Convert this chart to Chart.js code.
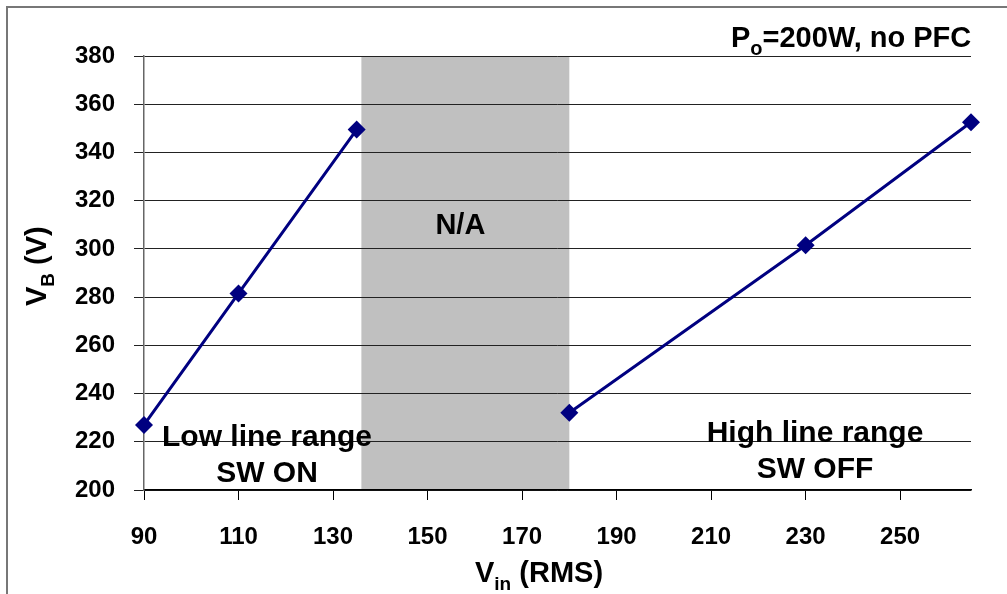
<!DOCTYPE html>
<html>
<head>
<meta charset="utf-8">
<script src="https://cdn.jsdelivr.net/npm/chart.js@4"></script>
<style>
  html, body { margin: 0; padding: 0; background: #fff; overflow: hidden; }
  #wrap { position: relative; width: 1007px; height: 594px; }
  #frame { position: absolute; left: 6px; top: 6px; width: 1020px; height: 600px; border: 2px solid #777; box-sizing: border-box; }
  canvas { position: absolute; left: 0; top: 0; }
</style>
</head>
<body>
<div id="wrap">
  <div id="frame"></div>
  <canvas id="vb-chart" width="1007" height="594"></canvas>
</div>
<script>
const FONT = '"Liberation Sans", Arial, sans-serif';
const NAVY = '#000080';

// bus voltage vs. input voltage, low line (switch on) and high line (switch off)
const lowVin = [90, 110, 135];
const lowVb = [227, 281.5, 349.5];
const highVin = [180, 230, 265];
const highVb = [232, 301.5, 352.5];

// input range not covered by either setting
const naRange = [136, 180];

const xTicks = [90, 110, 130, 150, 170, 190, 210, 230, 250];
const xMin = 90, xMax = 265;
const yMin = 200, yMax = 380, yStep = 20;

function toPoints(xs, ys) {
    return xs.map((x, i) => ({ x: x, y: ys[i] }));
}

function lineStyle(label, xs, ys) {
    return {
        label: label,
        data: toPoints(xs, ys),
        showLine: true,
        borderColor: NAVY,
        backgroundColor: NAVY,
        borderWidth: 3,
        pointStyle: 'rectRot',
        pointRadius: 9,
        pointBorderWidth: 0,
        pointBorderColor: NAVY,
        pointBackgroundColor: NAVY,
        clip: false,
    };
}

// text with a subscript part: [main, sub, rest]
function drawSubText(ctx, x, y, parts, size, subSize) {
    ctx.textAlign = 'left';
    ctx.textBaseline = 'alphabetic';
    ctx.font = 'bold ' + size + 'px ' + FONT;
    ctx.fillText(parts[0], x, y);
    x += ctx.measureText(parts[0]).width;
    ctx.font = 'bold ' + subSize + 'px ' + FONT;
    ctx.fillText(parts[1], x, y + subSize * 0.4);
    x += ctx.measureText(parts[1]).width;
    ctx.font = 'bold ' + size + 'px ' + FONT;
    ctx.fillText(parts[2], x, y);
}

const naBand = {
    id: 'naBand',
    beforeDraw(chart) {
        const { ctx, chartArea, scales } = chart;
        const x0 = scales.x.getPixelForValue(naRange[0]);
        const x1 = scales.x.getPixelForValue(naRange[1]);
        ctx.save();
        ctx.fillStyle = '#c0c0c0';
        ctx.fillRect(x0, chartArea.top, x1 - x0, chartArea.bottom - chartArea.top);
        ctx.restore();
    }
};

const labels = {
    id: 'labels',
    afterDraw(chart) {
        const { ctx, scales } = chart;
        ctx.save();
        ctx.fillStyle = '#000';

        ctx.font = 'bold 29px ' + FONT;
        ctx.textAlign = 'center';
        ctx.textBaseline = 'alphabetic';
        const naX = (scales.x.getPixelForValue(naRange[0]) + scales.x.getPixelForValue(naRange[1])) / 2;
        ctx.fillText('N/A', naX - 5, 234);

        ctx.font = 'bold 30px ' + FONT;
        ctx.fillText('Low line range', 267, 446);
        ctx.fillText('SW ON', 267, 482);
        ctx.fillText('High line range', 815, 442);
        ctx.fillText('SW OFF', 815, 478);

        drawSubText(ctx, 731, 47, ['P', 'o', '=200W, no PFC'], 29, 20);
        drawSubText(ctx, 475, 582, ['V', 'in', ' (RMS)'], 29, 19);

        ctx.translate(46, 306);
        ctx.rotate(-Math.PI / 2);
        drawSubText(ctx, 0, 0, ['V', 'B', ' (V)'], 29, 19);
        ctx.restore();
    }
};

const vbChart = new Chart(document.getElementById('vb-chart'), {
    type: 'scatter',
    data: {
        datasets: [
            lineStyle('Low line range', lowVin, lowVb),
            lineStyle('High line range', highVin, highVb),
        ]
    },
    options: {
        responsive: false,
        animation: false,
        devicePixelRatio: 1,
        layout: { padding: { top: 56, right: 36, left: 0, bottom: 0 } },
        plugins: {
            legend: { display: false },
            tooltip: { enabled: false },
        },
        scales: {
            x: {
                type: 'linear',
                min: xMin,
                max: xMax,
                afterBuildTicks(scale) { scale.ticks = xTicks.map(v => ({ value: v })); },
                afterFit(scale) { scale.height = 104; },
                ticks: {
                    padding: 23,
                    color: '#000',
                    font: { family: FONT, size: 24, weight: 'bold' },
                },
                grid: { drawOnChartArea: false, tickLength: 10, color: '#000', lineWidth: 1 },
                border: { color: '#000', width: 1.5 },
            },
            y: {
                type: 'linear',
                min: yMin,
                max: yMax,
                afterFit(scale) { scale.width = 144; },
                ticks: {
                    stepSize: yStep,
                    padding: 19,
                    color: '#000',
                    font: { family: FONT, size: 24, weight: 'bold' },
                },
                grid: { tickLength: 10, color: '#222', lineWidth: 1 },
                border: { color: '#666', width: 1.5 },
            }
        }
    },
    plugins: [naBand, labels]
});
</script>
</body>
</html>
